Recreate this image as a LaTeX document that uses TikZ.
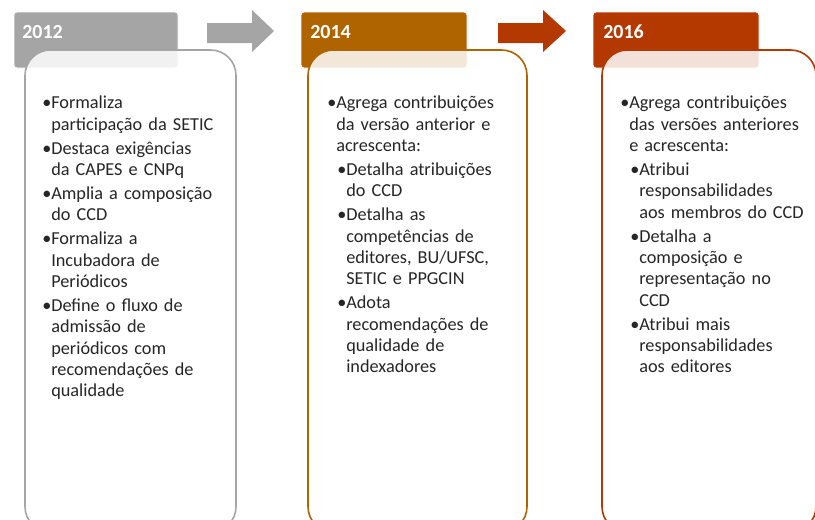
\documentclass[tikz,border=0pt]{standalone}
\usepackage{fontspec}
\setmainfont{Carlito}
\usetikzlibrary{positioning}
\definecolor{cinza}{HTML}{A5A5A5}
\definecolor{ocre}{HTML}{AF6400}
\definecolor{telha}{HTML}{B33900}
\newcommand{\itm}[2][0pt]{\par\leftskip=#1\hangindent=6.75pt\hangafter=1\noindent\makebox[6.75pt][l]{\textbullet}#2}
\tikzset{
	ano/.style={font=\fontsize{15}{18}\selectfont\bfseries, text=white, anchor=west, inner sep=0pt},
	lista/.style={font=\fontsize{13.7}{16}\selectfont, text=black!85, anchor=north west, inner sep=0pt, text width=150pt, align=left}
}

\begin{document}
\begin{tikzpicture}[x=0.75pt, y=-0.75pt]
			%%%%% START %%%%%
			\clip (0, 0) rectangle (815, 519);
			\fill[white] (0, 0) rectangle (815, 519);
			
			% 2012
			\draw[fill=cinza, draw=white, rounded corners=2.5pt] (14, 12) rectangle (178, 68);
			\node[ano] (a12) at (22, 32) {2012};
			\draw[draw=cinza, line width=1.2pt, fill=white, fill opacity=0.85, rounded corners=19pt] (25, 50) rectangle (236, 532);
			
			\draw[fill=cinza, draw=none] (207, 23) -- (252, 23) -- (252, 10) -- (274, 31) -- (252, 52) -- (252, 43) -- (207, 43) -- cycle;
			
			% 2014
			\draw[fill=ocre, draw=white, rounded corners=2.5pt] (301, 12) rectangle (467, 68);
			\node[ano] (a14) at (310, 32) {2014};
			\draw[draw=ocre, line width=1.2pt, fill=white, fill opacity=0.85, rounded corners=19pt] (308, 50) rectangle (527, 532);
			
			\draw[fill=telha, draw=none] (498, 23) -- (543, 23) -- (543, 10) -- (566, 31) -- (543, 52) -- (543, 43) -- (498, 43) -- cycle;
			
			% 2016
			\draw[fill=telha, draw=white, rounded corners=2.5pt] (593, 12) rectangle (759, 68);
			\node[ano] (a16) at (603, 32) {2016};
			\draw[draw=telha, line width=1.2pt, fill=white, fill opacity=0.85, rounded corners=19pt] (602, 50) rectangle (816, 532);
			
			% textos
			\node[lista] (t12) at (42, 84.5) {\setlength{\parskip}{2pt}%
				\itm{Formaliza\newline participação da SETIC}
				\itm{Destaca exigências\newline da CAPES e CNPq}
				\itm{Amplia a composição\newline do CCD}
				\itm{Formaliza a\newline Incubadora de\newline Periódicos}
				\itm{Define o fluxo de\newline admissão de\newline periódicos com\newline recomendações de\newline qualidade}\par};
			
			\node[lista] (t14) at (327, 84.5) {\setlength{\parskip}{2pt}%
				\itm{Agrega contribuições\newline da versão anterior e\newline acrescenta:}
				\itm[7.5pt]{Detalha atribuições\newline do CCD}
				\itm[7.5pt]{Detalha as\newline competências de\newline editores, BU/UFSC,\newline SETIC e PPGCIN}
				\itm[7.5pt]{Adota\newline recomendações de\newline qualidade de\newline indexadores}\par};
			
			\node[lista] (t16) at (620, 84.5) {\setlength{\parskip}{2pt}%
				\itm{Agrega contribuições\newline das versões anteriores\newline e acrescenta:}
				\itm[7.5pt]{Atribui\newline responsabilidades\newline aos membros do CCD}
				\itm[7.5pt]{Detalha a\newline composição e\newline representação no\newline CCD}
				\itm[7.5pt]{Atribui mais\newline responsabilidades\newline aos editores}\par};
			
			%%%%% END %%%%%
\end{tikzpicture}
\end{document}
